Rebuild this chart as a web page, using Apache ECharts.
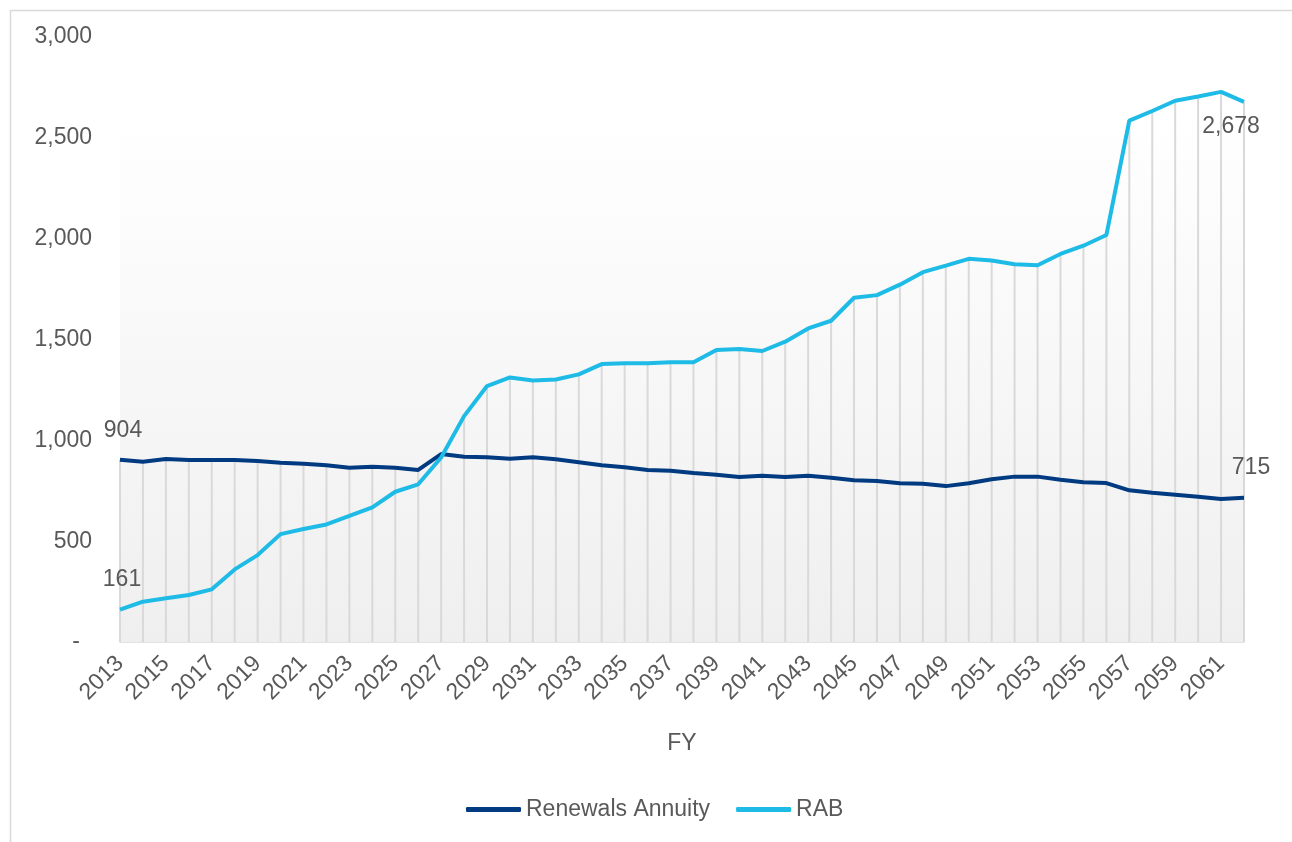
<!DOCTYPE html>
<html>
<head>
<meta charset="utf-8">
<script src="https://cdn.jsdelivr.net/npm/echarts@6/dist/echarts.min.js"></script>
<style>
html,body{margin:0;padding:0;background:#fff;}
#chart{width:1292px;height:842px;}
</style>
</head>
<body>
<div id="chart"></div>
<script>
const years = ['2013','2014','2015','2016','2017','2018','2019','2020','2021','2022',
  '2023','2024','2025','2026','2027','2028','2029','2030','2031','2032',
  '2033','2034','2035','2036','2037','2038','2039','2040','2041','2042',
  '2043','2044','2045','2046','2047','2048','2049','2050','2051','2052',
  '2053','2054','2055','2056','2057','2058','2059','2060','2061','2062'];

const renewalsAnnuity = [904,894,907,902,902,902,897,889,884,876,
  864,869,864,853,932,919,916,909,916,906,
  891,876,866,853,849,838,829,818,824,818,
  824,815,802,798,787,785,773,787,807,820,
  820,805,792,788,752,740,730,720,709,715];

const rab = [161,200,217,233,261,360,431,535,560,583,
  625,668,745,782,915,1120,1269,1312,1297,1302,
  1327,1378,1382,1382,1387,1387,1448,1453,1443,1489,
  1555,1593,1707,1720,1772,1834,1866,1900,1892,1873,
  1868,1924,1965,2018,2585,2633,2684,2705,2728,2678];

const yTicks = [0,500,1000,1500,2000,2500,3000];
const shadeTop = 2610;

const textColor = '#595959';
const fontFamily = '"Liberation Sans", Arial, sans-serif';
const fs = 23;

const dropLines = years.map((_, i) => Math.max(renewalsAnnuity[i], rab[i]));
const fmt = v => v.toLocaleString('en-US');

function withEndLabels(arr, firstLabel, lastLabel) {
  return arr.map((v, i) => {
    if (i === 0) return { value: v, label: Object.assign({ show: true }, firstLabel) };
    if (i === arr.length - 1) return { value: v, label: Object.assign({ show: true }, lastLabel) };
    return v;
  });
}

const labelBase = { color: textColor, fontSize: fs, fontFamily: fontFamily, formatter: p => fmt(p.value) };

const chart = echarts.init(document.getElementById('chart'), null, { renderer: 'canvas' });
chart.setOption({
  animation: false,
  backgroundColor: '#ffffff',
  textStyle: { fontFamily: fontFamily, color: textColor },
  graphic: [{
    type: 'rect', left: 8, top: 8, z: -10, silent: true,
    shape: { width: 1400, height: 900 },
    style: { fill: 'none', stroke: '#d9d9d9', lineWidth: 1.5 }
  }],
  grid: { left: 120, right: 48, top: 37, bottom: 200, containLabel: false },
  legend: {
    data: ['Renewals Annuity', 'RAB'],
    top: 793,
    left: 461,
    icon: 'roundRect',
    itemWidth: 55,
    itemHeight: 5,
    itemGap: 26,
    textStyle: { color: textColor, fontSize: fs, fontFamily: fontFamily }
  },
  xAxis: {
    type: 'category',
    data: years,
    boundaryGap: false,
    name: 'FY',
    nameLocation: 'middle',
    nameGap: 90,
    nameTextStyle: { color: textColor, fontSize: fs, fontFamily: fontFamily },
    axisLine: { lineStyle: { color: '#d9d9d9', width: 1.5 } },
    axisTick: { show: false },
    axisLabel: { interval: 1, rotate: 45, color: textColor, fontSize: fs, fontFamily: fontFamily, margin: 18 },
    splitLine: { show: false }
  },
  yAxis: {
    type: 'value',
    min: yTicks[0],
    max: yTicks[yTicks.length - 1],
    interval: 500,
    axisLine: { show: false },
    axisTick: { show: false },
    splitLine: { show: false },
    axisLabel: {
      margin: 28,
      color: textColor, fontSize: fs, fontFamily: fontFamily,
      formatter: v => v === 0 ? '{d|-}' : fmt(v),
      rich: { d: { padding: [0, 12, 0, 0], color: textColor, fontSize: fs, fontFamily: fontFamily } }
    }
  },
  series: [
    {
      name: 'drop',
      type: 'bar',
      data: dropLines,
      barWidth: 2,
      silent: true,
      itemStyle: { color: '#d9d9d9' },
      z: 1,
      markArea: {
        silent: true,
        itemStyle: {
          color: { type: 'linear', x: 0, y: 0, x2: 0, y2: 1,
            colorStops: [{ offset: 0, color: '#ffffff' }, { offset: 1, color: '#efefef' }] }
        },
        data: [[{ yAxis: shadeTop }, { yAxis: 0 }]]
      }
    },
    {
      name: 'Renewals Annuity',
      type: 'line',
      data: withEndLabels(renewalsAnnuity,
        Object.assign({}, labelBase, { position: 'top', distance: 18, offset: [3, 0] }),
        Object.assign({}, labelBase, { position: 'top', distance: 19, offset: [7, 0] })),
      symbol: 'circle',
      symbolSize: 0.01,
      showSymbol: true,
      showAllSymbol: true,
      lineStyle: { color: '#003a80', width: 4 },
      itemStyle: { color: '#003a80' },
      z: 3
    },
    {
      name: 'RAB',
      type: 'line',
      data: withEndLabels(rab,
        Object.assign({}, labelBase, { position: 'top', distance: 18, offset: [2, 0] }),
        Object.assign({}, labelBase, { position: 'bottom', distance: 13, offset: [-13, 0] })),
      symbol: 'circle',
      symbolSize: 0.01,
      showSymbol: true,
      showAllSymbol: true,
      lineStyle: { color: '#1ebbe6', width: 4 },
      itemStyle: { color: '#1ebbe6' },
      z: 4
    }
  ]
});
</script>
</body>
</html>
